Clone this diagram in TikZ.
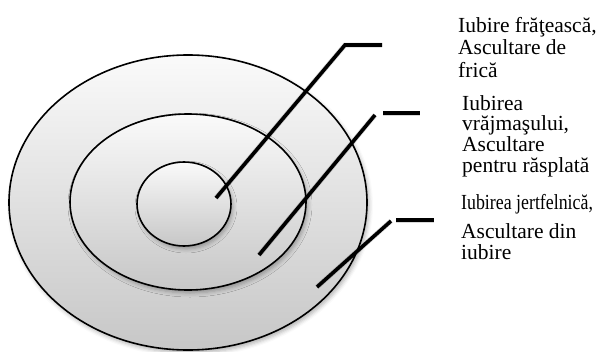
\documentclass[tikz,border=0pt]{standalone}
\usepackage{fontspec}
\setmainfont{Liberation Serif}
\usetikzlibrary{shadows.blur}
\newcommand{\lines}[2]{\fontsize{21.5}{#1}\selectfont\begin{tabular}[t]{@{}l@{}}#2\end{tabular}}
\tikzset{
  ring/.style={draw=black, line width=1.6pt, top color=black!2, bottom color=black!22,
    blur shadow={shadow xshift=2pt, shadow yshift=-3pt, shadow blur radius=4pt, shadow opacity=30}},
  leader/.style={draw=black, line width=3.6pt},
  leadshadow/.style={draw=black, line width=5pt, opacity=0.15},
  lbl/.style={inner sep=0pt, anchor=base west}
}
\begin{document}
\begin{tikzpicture}[x=1pt,y=-1pt]
\useasboundingbox (0,0) rectangle (600,351);
% rings
\path[ring] (188,202.5) ellipse [x radius=179pt, y radius=147.5pt];
\path[ring] (188,202) ellipse [x radius=118pt, y radius=88pt];
\path[ring] (184,204) ellipse [x radius=47pt, y radius=42pt];
% leader end points
\coordinate (a1) at (216,198);
\coordinate (a2) at (345,45);
\coordinate (a3) at (382,45);
\coordinate (b1) at (259,255);
\coordinate (b2) at (375,115);
\coordinate (b3) at (383,113);
\coordinate (b4) at (420,113);
\coordinate (c1) at (317,287);
\coordinate (c2) at (391,221);
\coordinate (c3) at (396,220);
\coordinate (c4) at (434,220);
% shadows of leaders
\begin{scope}[shift={(1.5,2.5)}]
\draw[leadshadow] (a1) -- (a2) -- (a3);
\draw[leadshadow] (b1) -- (b2);
\draw[leadshadow] (b3) -- (b4);
\draw[leadshadow] (c1) -- (c2);
\draw[leadshadow] (c3) -- (c4);
\end{scope}
% leaders
\draw[leader] (a1) -- (a2) -- (a3);
\draw[leader] (b1) -- (b2);
\draw[leader] (b3) -- (b4);
\draw[leader] (c1) -- (c2);
\draw[leader] (c3) -- (c4);
% labels
\node[lbl] (t1) at (458,32) {\lines{22.5}{Iubire frăţească,\\Ascultare de\\frică}};
\node[lbl] (t2) at (462,110) {\lines{20}{Iubirea\\vrăjmaşului,\\Ascultare\\pentru răsplată}};
\node[lbl] (t3) at (461,209) {\lines{21}{\scalebox{0.83}[1]{Iubirea jertfelnică,}\\[8pt]Ascultare din\\iubire}};
\end{tikzpicture}
\end{document}
